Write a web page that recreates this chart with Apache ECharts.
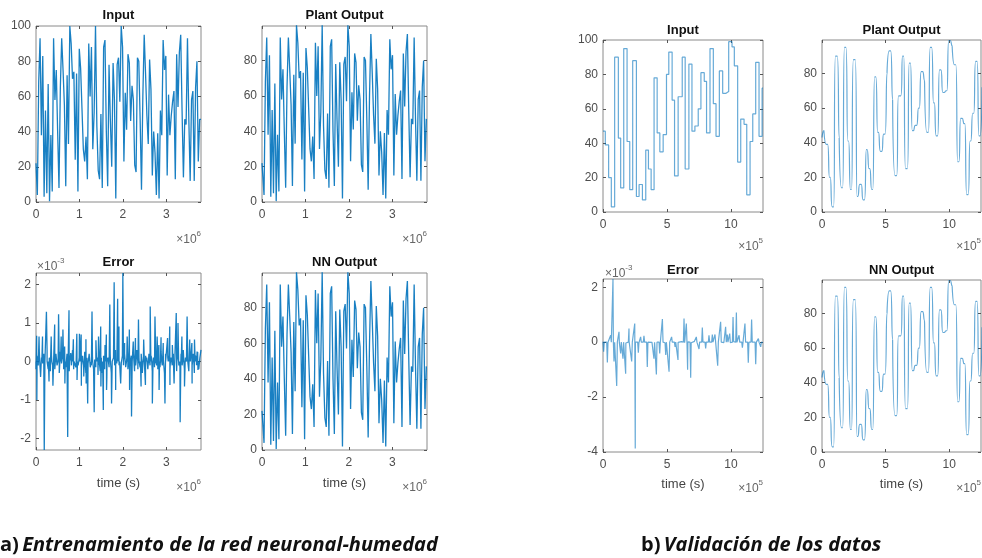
<!DOCTYPE html>
<html>
<head>
<meta charset="utf-8">
<script src="https://cdn.jsdelivr.net/npm/echarts@6/dist/echarts.min.js"></script>
<style>
  html, body { margin: 0; padding: 0; background: #fff; }
  #chart { width: 982px; height: 558px; }
</style>
</head>
<body>
<div id="chart"></div>
<script>
// ---------- training run (time axis in units of 10^6 s) ----------
const spanA = 3.8;
// commanded humidity levels, one per input step
const inputA = [
  22, 4, 68, 93, 38, 83, 3, 52, 5, 67,
  0.5, 38, 6, 93, 58, 75, 40, 8, 65, 93,
  75, 55, 9, 72, 33, 100, 90, 70, 74, 24,
  73, 6, 87, 76, 53, 30, 23, 37, 13, 90,
  60, 88, 30, 51, 100, 43, 18, 13, 50, 8,
  88, 92, 40, 9, 78, 46, 20, 79, 58, 2,
  78, 82, 57, 100, 88, 23, 62, 41, 84, 79,
  46, 66, 58, 21, 17, 82, 80, 47, 7, 60,
  95, 73, 49, 33, 81, 64, 15, 40, 28, 4,
  39, 2, 52, 38, 92, 75, 83, 15, 61, 38,
  49, 57, 63, 13, 84, 54, 85, 95, 52, 14,
  47, 44, 93, 47, 12, 58, 63, 12, 65, 80,
  23, 47
];
// error baseline (units of 10^-3)
const errNoiseA = [
  -0.2, 0.15, -0.1, 0.25, -0.3, 0.1, -0.05, 0.2, -0.15, 0.05,
  0.3, -0.2, 0.1, -0.25, 0.15, -0.1, 0.05, -0.2, 0.2, -0.1,
  0.1, -0.3, 0.25, -0.05, 0.15, -0.2, 0.1, -0.15, 0.2, -0.05,
  -0.25, 0.1, -0.1, 0.3, -0.2, 0.05, -0.15, 0.2, -0.1, 0.1,
  0.05, -0.2, 0.15, -0.1, 0.25, -0.3, 0.1, -0.05, 0.2, -0.15,
  -0.1, 0.1, -0.2, 0.05, -0.15, 0.1, -0.35, 0.2, -0.25, 0.1,
  -0.3, 0.15, -0.2, 0.05, -0.4, 0.1, -0.15, 0.2, -0.3, 0.05,
  0.1, -0.1, 0.05, -0.05, 0.1, -0.1, 0.05, -0.05, 0.15, -0.1,
  0.2, -0.15, 0.1, -0.2, 0.25, -0.1, 0.15, -0.05, 0.2, -0.25,
  -0.1, 0.3, -0.2, 0.1, -0.15, 0.2, -0.3, 0.1, -0.05, 0.15,
  0.1, -0.2, 0.2, -0.1, 0.15, -0.25, 0.1, -0.15, 0.3, -0.1,
  -0.2, 0.1, -0.15, 0.25, -0.1, 0.05, -0.3, 0.2, -0.05, 0.1,
  0.15, -0.2, 0.1, -0.1, 0.2, -0.15, 0.05, -0.25, 0.15, -0.1,
  -0.15, 0.2, -0.1, 0.3, -0.2, 0.1, -0.05, 0.15, -0.25, 0.1,
  0.05, -0.1, 0.2, -0.3, 0.15, -0.1, 0.25, -0.2, 0.1, 0.3
];
// error peaks at input changes: [time, error]
const errSpikesA = [
  [0.015, 0.67], [0.02, -1.0], [0.07, 0.65], [0.106, -0.4], [0.15, 0.65],
  [0.19, -2.3], [0.24, 1.29], [0.30, -0.52], [0.35, 0.65], [0.39, -0.63],
  [0.43, 0.96], [0.52, 1.23], [0.58, 0.65], [0.62, 0.83], [0.66, 0.39],
  [0.665, -0.57], [0.73, -1.96], [0.76, 1.33], [0.80, 0.22], [0.86, 0.58],
  [0.94, 0.72], [0.945, -0.48], [1.0, 0.72], [1.04, 0.7], [1.045, -0.63],
  [1.10, -0.39], [1.15, 0.58], [1.155, -0.57], [1.19, -1.09], [1.29, 1.3],
  [1.34, -1.32], [1.38, 0.55], [1.44, 0.65], [1.49, 0.91], [1.495, -0.65],
  [1.55, -1.26], [1.59, 0.43], [1.62, 0.7], [1.625, -0.74], [1.70, 1.48],
  [1.74, -1.09], [1.80, 2.06], [1.83, 0.3], [1.835, -0.74], [1.88, 1.63],
  [1.91, 0.91], [1.95, -0.57], [2.0, 2.3], [2.04, 0.48], [2.10, 0.65],
  [2.15, 0.83], [2.155, -0.74], [2.20, -1.43], [2.24, 0.52], [2.29, 0.61],
  [2.36, 1.09], [2.42, -0.65], [2.48, 0.57], [2.52, -0.61], [2.63, 1.43],
  [2.68, -1.09], [2.74, 1.17], [2.79, 0.65], [2.83, 0.43], [2.835, -0.74],
  [2.88, 0.63], [2.93, 0.48], [2.97, -1.09], [3.03, 0.61], [3.08, 0.91],
  [3.085, -0.61], [3.14, 0.43], [3.18, -0.57], [3.23, 1.26], [3.27, 1.0],
  [3.32, -1.58], [3.36, 0.65], [3.42, -0.65], [3.48, 1.17], [3.54, 0.57],
  [3.59, 0.48], [3.595, -0.57], [3.65, 0.57], [3.71, 0.26], [3.73, -0.22]
];

// ---------- validation run (time axis in units of 10^5 s) ----------
const spanB = 12.5;
const stepStartsB = [
  0, 0.18, 0.44, 0.65, 0.91, 1.20, 1.38, 1.62, 1.88, 2.09,
  2.32, 2.61, 2.82, 3.08, 3.34, 3.55, 3.76, 3.99, 4.23, 4.44,
  4.70, 4.96, 5.14, 5.40, 5.59, 5.87, 6.19, 6.42, 6.71, 6.95,
  7.18, 7.44, 7.65, 7.91, 8.09, 8.36, 8.62, 8.83, 9.09, 9.35,
  9.61, 9.82, 10.08, 10.26, 10.52, 10.76, 11.02, 11.23, 11.49, 11.70,
  11.93, 12.19, 12.43
];
const inputB = [
  47, 39, 20, 3, 90, 43, 14, 95, 41, 13,
  88, 9, 16, 7, 36, 25, 13, 78, 46, 35,
  45, 80, 93, 65, 21, 67, 90, 25, 86, 47,
  50, 60, 81, 76, 46, 95, 63, 44, 82, 69,
  70, 99, 96, 85, 29, 54, 51, 10, 41, 57,
  87, 44, 72
];
const plantStartB = 43;
const errNoiseB = [
  0.02, -0.03, 0.01, -0.02, 0.03, -0.01, 0.02, -0.03, 0.02, -0.02,
  0.03, -0.02, 0.01, -0.03, 0.02, -0.01, 0.02, -0.02, 0.03, -0.02,
  0.01, -0.03, 0.02, -0.01, 0.02, -0.02, 0.01, -0.02, 0.03, -0.01,
  0.02, -0.03, 0.02, -0.01, 0.02, -0.02, 0.01, -0.02, 0.03, -0.02,
  0.02, -0.01, 0.02, -0.03, 0.01, -0.02, 0.02, -0.01, 0.02, -0.02
];
const errSpikesB = [
  [0.05, -0.35], [0.34, -0.74], [0.6, 0.25], [0.78, 2.3], [0.86, -0.7],
  [1.07, -1.6], [1.25, 0.38], [1.38, -0.41], [1.56, -0.6], [1.77, -1.15],
  [2.03, 0.5], [2.24, -0.7], [2.48, 0.68], [2.52, -3.87], [2.76, -0.38],
  [2.94, 0.19], [3.2, 0.23], [3.46, -0.9], [3.98, -0.6], [4.17, -1.18],
  [4.43, -0.41], [4.64, 0.84], [4.9, -0.47], [5.16, -1.08], [5.36, 0.19],
  [5.63, -0.17], [5.86, -0.65], [6.33, 0.86], [6.51, 0.68], [6.61, -1.0],
  [6.85, -1.3], [7.29, 0.19], [7.5, -0.25], [7.76, 0.53], [8.02, -0.23],
  [8.28, 0.25], [8.54, 0.28], [8.75, 0.28], [8.96, -0.86], [9.19, 0.74],
  [9.58, 0.56], [9.71, 0.28], [9.9, 0.31], [10.16, 0.92], [10.42, 1.08],
  [10.63, 0.25], [10.89, -0.2], [11.09, 0.68], [11.35, -0.75], [11.61, 0.82],
  [11.93, -0.8], [12.14, 0.13], [12.32, -0.17]
];

// ---------- tick labels ----------
const xTicksA = [0, 1, 2, 3];
const xTicksB = [0, 5, 10];
const levelTicks = [0, 20, 40, 60, 80, 100];
const errTicksA = [-2, -1, 0, 1, 2];
const errTicksB = [-4, -2, 0, 2];

const panelTitles = ['Input', 'Plant Output', 'Error', 'NN Output',
                     'Input', 'Plant Output', 'Error', 'NN Output'];
const captionA = 'Entrenamiento de la red neuronal-humedad';
const captionB = 'Validación de los datos';

// ---------- series construction ----------
// piecewise-constant input: each level holds until the next step
function stepData(starts, levels, span) {
  const d = levels.map((v, i) => [starts[i], v]);
  d.push([span, levels[levels.length - 1]]);
  return d;
}
// plant response: leaves the previous level at the step and settles on the new one
function responseData(starts, levels, settle, first) {
  const d = [[0, first], [settle, levels[0]]];
  for (let i = 1; i < levels.length; i++) {
    d.push([starts[i], levels[i - 1]], [starts[i] + settle, levels[i]]);
  }
  return d;
}
// error trace: small baseline ripple with narrow peaks
function errorData(noise, spikes, span) {
  const pts = noise.map((v, k) => [k * span / (noise.length - 1), v]);
  const eps = 0.004 * span;
  spikes.forEach(([t, v]) => pts.push([t - eps, 0], [t, v], [t + eps, 0]));
  return pts.sort((p, q) => p[0] - q[0]);
}

const dtA = spanA / inputA.length;
const startsA = inputA.map((v, i) => i * dtA);
const inA = stepData(startsA, inputA, spanA);
const plantA = responseData(startsA, inputA, dtA * 0.5, inputA[0]);
const errA = errorData(errNoiseA, errSpikesA, spanA);
const inB = stepData(stepStartsB, inputB, spanB);
const plantB = responseData(stepStartsB, inputB, 0.15, plantStartB);
const errB = errorData(errNoiseB, errSpikesB, spanB);

// ---------- layout ----------
const boxes = [
  [36, 26, 165, 176], [262, 26, 165, 176], [36, 273, 165, 177], [262, 273, 165, 177],
  [603, 40, 160, 172], [822, 40, 159, 172], [603, 279, 160, 173], [822, 280, 159, 172]
];
const yRanges = [
  [0, 100, levelTicks], [0, 99.5, levelTicks], [-2.3, 2.3, errTicksA], [0, 99.5, levelTicks],
  [0, 100, levelTicks], [0, 99.3, levelTicks], [-4, 2.3, errTicksB], [0, 99.3, levelTicks]
];

const FONT = '"Liberation Sans", Arial, sans-serif';
const TICK_COLOR = '#555';
const LABEL_COLOR = '#4d4d4d';

const grids = [], xAxes = [], yAxes = [], series = [];
boxes.forEach((b, p) => {
  grids.push({ left: b[0], top: b[1], width: b[2], height: b[3], show: true,
    borderColor: '#8a8a8a', borderWidth: 1, backgroundColor: '#fff' });
  const isA = p < 4;
  const xr = isA ? [0, spanA, xTicksA] : [0, spanB, xTicksB];
  ['bottom', 'top'].forEach(pos => xAxes.push({
    type: 'value', gridIndex: p, position: pos, min: xr[0], max: xr[1],
    axisLine: { show: false, onZero: false }, splitLine: { show: false },
    axisTick: { show: true, inside: true, length: 3, customValues: xr[2],
      lineStyle: { color: TICK_COLOR } },
    axisLabel: { show: pos === 'bottom', customValues: xr[2], color: LABEL_COLOR,
      fontSize: 12, fontFamily: FONT, margin: 7 }
  }));
  const yr = yRanges[p];
  ['left', 'right'].forEach(pos => yAxes.push({
    type: 'value', gridIndex: p, position: pos, min: yr[0], max: yr[1],
    axisLine: { show: false, onZero: false }, splitLine: { show: false },
    axisTick: { show: true, inside: true, length: 3, customValues: yr[2],
      lineStyle: { color: TICK_COLOR } },
    axisLabel: { show: pos === 'left', customValues: yr[2], color: LABEL_COLOR,
      fontSize: 12, fontFamily: FONT, margin: 5 }
  }));
});

const darkLine = { color: '#0072BD', width: 1.3, opacity: 0.9 };
const lightLine = { color: '#0072BD', width: 1.2, opacity: 0.6 };
const panelData = [
  [inA, 'end', false, darkLine], [plantA, false, false, darkLine],
  [errA, false, false, darkLine], [plantA, false, false, darkLine],
  [inB, 'end', false, lightLine], [plantB, false, 0.5, lightLine],
  [errB, false, false, lightLine], [plantB, false, 0.5, lightLine]
];
panelData.forEach(([data, step, smooth, ls], p) => {
  series.push({
    type: 'line', xAxisIndex: 2 * p, yAxisIndex: 2 * p, data,
    step: step || false, smooth: smooth || false,
    showSymbol: false, symbol: 'none', silent: true, clip: true,
    lineStyle: ls, animation: false
  });
});

// ---------- texts ----------
const graphics = [];
function txt(x, y, text, style) {
  graphics.push({ type: 'text', x, y, silent: true,
    style: Object.assign({ text, fontFamily: FONT, fontSize: 12, fill: LABEL_COLOR,
      align: 'center', verticalAlign: 'middle' }, style) });
}
const titlePos = [[118.5, 15], [344.5, 15], [118.5, 262], [344.5, 262],
                  [683, 30], [901.5, 30], [683, 270], [901.5, 270]];
titlePos.forEach(([x, y], p) => txt(x, y, panelTitles[p],
  { fontWeight: 'bold', fontSize: 13, fill: '#111' }));

function powerLabel(x, y, exp, align) {
  txt(x, y, '{m|×10}{s|' + exp + '}', {
    align, rich: {
      m: { fontFamily: FONT, fontSize: 12, fill: '#666', lineHeight: 16, verticalAlign: 'bottom' },
      s: { fontFamily: FONT, fontSize: 8, fill: '#666', lineHeight: 16, verticalAlign: 'top' }
    }
  });
}
[[201, 238], [427, 238], [201, 486], [427, 486]].forEach(([x, y]) => powerLabel(x, y, '6', 'right'));
[[763, 245], [981, 245], [763, 487], [981, 487]].forEach(([x, y]) => powerLabel(x, y, '5', 'right'));
powerLabel(37, 265, '-3', 'left');
powerLabel(605, 272, '-3', 'left');

[[118.5, 483], [344.5, 483], [683, 484], [901.5, 484]].forEach(([x, y]) =>
  txt(x, y, 'time (s)', { fontSize: 13, fill: '#444' }));

function caption(x, tag, text) {
  graphics.push({ type: 'text', x, y: 545, silent: true, style: {
    text: '{u|' + tag + ')} {i|' + text + '}', align: 'left', verticalAlign: 'middle',
    rich: {
      u: { fontFamily: '"Open Sans"', fontWeight: 'bold', fontSize: 20, fill: '#111' },
      i: { fontFamily: '"Open Sans"', fontWeight: 'bold', fontStyle: 'italic', fontSize: 20, fill: '#111' }
    }
  }});
}
caption(0, 'a', captionA);
caption(641, 'b', captionB);

const chart = echarts.init(document.getElementById('chart'), null, { renderer: 'canvas' });
chart.setOption({
  animation: false,
  backgroundColor: '#fff',
  grid: grids, xAxis: xAxes, yAxis: yAxes, series, graphic: graphics
});
</script>
</body>
</html>
